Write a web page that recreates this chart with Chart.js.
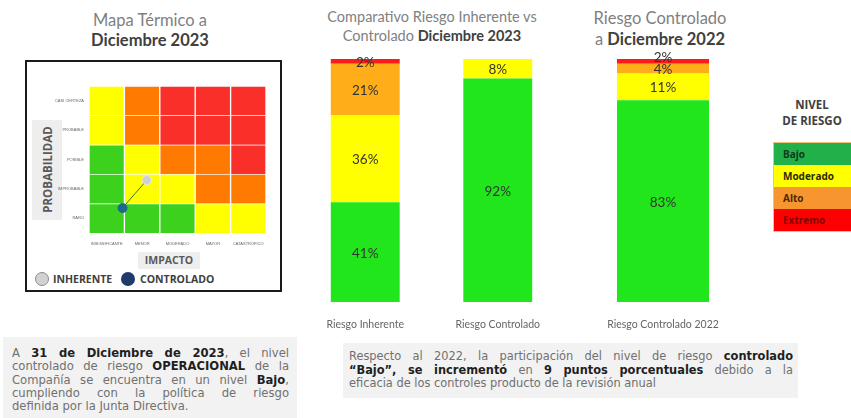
<!DOCTYPE html>
<html>
<head>
<meta charset="utf-8">
<script src="https://cdn.jsdelivr.net/npm/chart.js@4.4.1/dist/chart.umd.min.js"></script>
<style>
  body { margin: 0; width: 851px; height: 418px; background: #fff; position: relative; overflow: hidden; font-family: Lato, sans-serif; }
  .abs { position: absolute; }
  .title { text-align: center; color: #7f7f7f; line-height: 20px; }
  .title b { color: #404040; }
  .box { position: absolute; background: #f2f2f2; box-sizing: border-box; font-family: "DejaVu Sans", sans-serif; color: #707070; }
  .box b { color: #1f1f1f; }
  .ln { text-align: justify; text-align-last: justify; white-space: normal; }
  .ln.last { text-align-last: left; }
  .lvl { height: 22px; line-height: 22px; padding-left: 9px; font-weight: bold; font-size: 10px; font-family: "Open Sans", sans-serif; }
</style>
</head>
<body>
<div class="abs title" style="left:50px;top:10px;width:200px;font-size:16.5px;">Mapa Térmico a<br><b>Diciembre 2023</b></div>
<div class="abs title" style="left:317px;top:7px;width:230px;font-size:14.5px;line-height:19px;">Comparativo Riesgo Inherente vs<br>Controlado <b>Diciembre 2023</b></div>
<div class="abs title" style="left:560px;top:8px;width:200px;font-size:16.5px;line-height:21px;">Riesgo Controlado<br>a <b>Diciembre 2022</b></div>

<div class="abs" style="left:25px;top:60px;width:253px;height:228px;border:2px solid #1a1a1a;"></div>
<div class="abs" style="left:32px;top:120px;width:30px;height:100px;background:#eeeeee;"></div>
<div class="abs" style="left:-3px;top:162px;width:100px;text-align:center;transform:rotate(-90deg);font:bold 11.5px 'Open Sans',sans-serif;color:#595959;">PROBABILIDAD</div>
<div class="abs" style="left:138px;top:252px;width:62px;height:17px;background:#eeeeee;text-align:center;font:bold 10.5px/17px 'Open Sans',sans-serif;color:#595959;">IMPACTO</div>
<div class="abs" style="left:35px;top:272px;width:12px;height:12px;border-radius:50%;background:#d2d2d2;border:1px solid #8c8c8c;"></div>
<div class="abs" style="left:53px;top:271px;font:bold 10.5px/16px 'Open Sans',sans-serif;color:#404040;">INHERENTE</div>
<div class="abs" style="left:121px;top:272px;width:14px;height:14px;border-radius:50%;background:#1f3a6b;"></div>
<div class="abs" style="left:140px;top:271px;font:bold 10.5px/16px 'Open Sans',sans-serif;color:#404040;">CONTROLADO</div>

<div class="abs" style="left:28px;top:62px;width:250px;height:190px;"><canvas id="heat"></canvas></div>
<div class="abs" style="left:299px;top:50px;width:265px;height:280px;"><canvas id="bars2023"></canvas></div>
<div class="abs" style="left:596px;top:50px;width:134px;height:280px;"><canvas id="bars2022"></canvas></div>

<div class="abs" style="left:762px;top:97px;width:100px;text-align:center;font:bold 11.5px/16px 'Open Sans',sans-serif;color:#404040;">NIVEL<br>DE RIESGO</div>
<div class="abs" style="left:773px;top:142px;width:90px;border:1px solid #f3c27a;">
  <div class="lvl" style="background:#22b04b;color:#0e3b1b;">Bajo</div>
  <div class="lvl" style="background:#ffff00;color:#2b2b00;">Moderado</div>
  <div class="lvl" style="background:#f7962f;color:#4d2600;">Alto</div>
  <div class="lvl" style="background:#ff0000;color:#8b0000;">Extremo</div>
</div>

<div class="box" style="left:3px;top:337px;width:294px;height:90px;padding:10px 8px 0 9px;font-size:11.6px;line-height:13.3px;">
  <div class="ln">A <b>31 de Diciembre de 2023</b>, el nivel</div>
  <div class="ln">controlado de riesgo <b>OPERACIONAL</b> de la</div>
  <div class="ln">Compañía se encuentra en un nivel <b>Bajo</b>,</div>
  <div class="ln">cumpliendo con la política de riesgo</div>
  <div class="ln last">definida por la Junta Directiva.</div>
</div>
<div class="box" style="left:343px;top:343px;width:455px;height:55px;padding:7px 5px 0 6px;font-size:11.4px;line-height:13.5px;">
  <div class="ln">Respecto al 2022, la participación del nivel de riesgo <b>controlado</b></div>
  <div class="ln"><b>“Bajo”, se incrementó</b> en <b>9 puntos porcentuales</b> debido a la</div>
  <div class="ln last">eficacia de los controles producto de la revisión anual</div>
</div>

<script>
// heat map axes (bottom row first)
const impactLabels = ["INSIGNIFICANTE", "MENOR", "MODERADO", "MAYOR", "CATASTRÓFICO"];
const probLabels = ["RARO", "IMPROBABLE", "POSIBLE", "PROBABLE", "CASI CERTEZA"];
const rowRaro = ["Bajo", "Bajo", "Bajo", "Moderado", "Moderado"];
const rowImprobable = ["Bajo", "Moderado", "Moderado", "Alto", "Alto"];
const rowPosible = ["Bajo", "Moderado", "Alto", "Alto", "Extremo"];
const rowProbable = ["Moderado", "Alto", "Extremo", "Extremo", "Extremo"];
const rowCasiCerteza = ["Moderado", "Alto", "Extremo", "Extremo", "Extremo"];
// risk position (impact, probability) in grid units
const inherente = [0.7, 1.8];
const controlado = [-0.33, 0.85];

// stacked bars
const barLabels2023 = ["Riesgo Inherente", "Riesgo Controlado"];
const bajo2023 = [41, 92];
const moderado2023 = [36, 8];
const alto2023 = [21, 0];
const extremo2023 = [2, 0];
const barLabels2022 = ["Riesgo Controlado 2022"];
const bajo2022 = [83];
const moderado2022 = [11];
const alto2022 = [4];
const extremo2022 = [2];

const heatColors = { Bajo: "#3bd11c", Moderado: "#ffff00", Alto: "#ff7a00", Extremo: "#fa2f2a" };
const barColors = { Bajo: "#22e61c", Moderado: "#ffff00", Alto: "#ffae19", Extremo: "#ff1a1a" };

const heatRows = [rowRaro, rowImprobable, rowPosible, rowProbable, rowCasiCerteza];
const heatSets = heatRows.map((row, i) => ({
  label: probLabels[i],
  data: row.map(() => 1),
  backgroundColor: row.map(l => heatColors[l]),
  borderColor: "rgba(255,255,255,0.35)",
  borderWidth: 1,
  barPercentage: 1,
  categoryPercentage: 1,
  grouped: false,
  order: 3
}));

new Chart(document.getElementById("heat"), {
  type: "bar",
  data: {
    labels: impactLabels,
    datasets: heatSets.concat([
      {
        type: "line",
        data: [{ x: inherente[0], y: inherente[1] }, { x: controlado[0], y: controlado[1] }],
        xAxisID: "x2", yAxisID: "y2",
        borderColor: "#2f7d2a", borderWidth: 1, pointRadius: 0, order: 2
      },
      {
        type: "scatter", label: "INHERENTE",
        data: [{ x: inherente[0], y: inherente[1] }],
        xAxisID: "x2", yAxisID: "y2",
        backgroundColor: "#cfcfd4", borderColor: "#e8e8e8", borderWidth: 1, pointRadius: 4.5, order: 1
      },
      {
        type: "scatter", label: "CONTROLADO",
        data: [{ x: controlado[0], y: controlado[1] }],
        xAxisID: "x2", yAxisID: "y2",
        backgroundColor: "#1b6a8a", borderColor: "#1b6a8a", pointRadius: 4.5, order: 1
      }
    ])
  },
  options: {
    animation: false,
    responsive: true,
    maintainAspectRatio: false,
    layout: { padding: { top: 24, right: 12 } },
    plugins: { legend: { display: false }, tooltip: { enabled: false } },
    scales: {
      x: {
        stacked: true,
        grid: { display: false, drawTicks: false }, border: { display: false },
        ticks: { font: { size: 4 }, color: "#666", padding: 8, maxRotation: 0 },
        afterFit: (s) => { s.height = 19; }
      },
      y: {
        stacked: true, min: 0, max: 5,
        grid: { display: false, drawTicks: false }, border: { display: false },
        afterBuildTicks: (axis) => { axis.ticks = probLabels.map((_, i) => ({ value: i + 0.5 })); },
        ticks: { font: { size: 4 }, color: "#666", padding: 5, callback: (v, i) => probLabels[i] },
        afterFit: (s) => { s.width = 61; }
      },
      x2: { type: "linear", min: -0.5, max: 4.5, display: false },
      y2: { type: "linear", min: 0, max: 5, display: false }
    }
  }
});

// value labels in the middle of each segment, pushed up when they would collide
const pctLabels = {
  id: "pctLabels",
  afterDatasetsDraw(chart) {
    const ctx = chart.ctx;
    const lastY = {};
    ctx.save();
    ctx.font = "13.5px Lato, sans-serif";
    ctx.fillStyle = "#333";
    ctx.textAlign = "center";
    ctx.textBaseline = "middle";
    chart.data.datasets.forEach((ds, di) => {
      chart.getDatasetMeta(di).data.forEach((el, i) => {
        const v = ds.data[i];
        if (!v) return;
        let y = (el.y + el.base) / 2 + 1;
        if (lastY[i] !== undefined && y > lastY[i] - 12) y = lastY[i] - 12;
        lastY[i] = y;
        ctx.fillText(v + "%", el.x, y);
      });
    });
    ctx.restore();
  }
};

function stackedBar(id, labels, bajo, moderado, alto, extremo, barPct) {
  const sets = [
    ["Bajo", bajo], ["Moderado", moderado], ["Alto", alto], ["Extremo", extremo]
  ].map(([name, vals]) => ({
    label: name, data: vals, backgroundColor: barColors[name],
    barPercentage: barPct, categoryPercentage: 1
  }));
  return new Chart(document.getElementById(id), {
    type: "bar",
    data: { labels: labels, datasets: sets },
    plugins: [pctLabels],
    options: {
      animation: false,
      responsive: true,
      maintainAspectRatio: false,
      layout: { padding: { top: 9 } },
      plugins: { legend: { display: false }, tooltip: { enabled: false } },
      scales: {
        x: {
          stacked: true,
          grid: { display: false }, border: { display: false },
          ticks: { font: { size: 10.5, family: "Lato" }, color: "#666", padding: 8, maxRotation: 0 },
          afterFit: (s) => { s.height = 28; }
        },
        y: { stacked: true, min: 0, max: 100, display: false }
      }
    }
  });
}

stackedBar("bars2023", barLabels2023, bajo2023, moderado2023, alto2023, extremo2023, 0.52);
stackedBar("bars2022", barLabels2022, bajo2022, moderado2022, alto2022, extremo2022, 0.687);
</script>
</body>
</html>
